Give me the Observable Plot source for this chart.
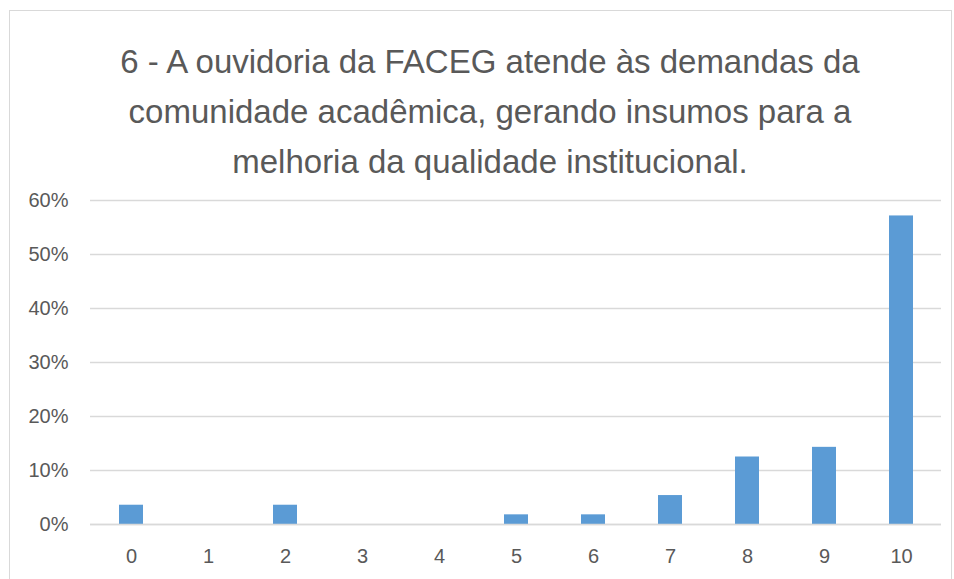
<!DOCTYPE html>
<html><head><meta charset="utf-8">
<script src="https://cdn.jsdelivr.net/npm/d3@7"></script>
<script src="https://cdn.jsdelivr.net/npm/@observablehq/plot@0.6"></script>
<style>
html,body{margin:0;padding:0;background:#fff;}
#frame{position:absolute;left:9px;top:10px;width:943px;height:580px;border:1px solid #d9d9d9;border-bottom:none;box-sizing:border-box;}
#title{position:absolute;left:0;top:37px;width:980px;text-align:center;font-family:"Liberation Sans",Arial,sans-serif;font-size:33px;line-height:50px;color:#595959;}
#chart{position:absolute;left:0;top:180px;}
</style></head><body>
<div id="frame"></div>
<div id="title"></div>
<div id="chart"></div>
<script>
const titleLines = ["6 - A ouvidoria da FACEG atende às demandas da","comunidade acadêmica, gerando insumos para a","melhoria da qualidade institucional."];
const categories = ["0","1","2","3","4","5","6","7","8","9","10"];
const values = [0.0357,0,0.0357,0,0,0.0179,0.0179,0.0536,0.125,0.1429,0.5714];
const yTicks = [0,0.1,0.2,0.3,0.4,0.5,0.6];

document.getElementById("title").innerHTML = titleLines.map(t=>`<div>${t}</div>`).join("");
const data = categories.map((c,i)=>({cat:c, v:values[i]}));
const chart = Plot.plot({
  width: 954, height: 399,
  marginLeft: 90, marginRight: 13, marginTop: 20, marginBottom: 55,
  style:{fontFamily:"Liberation Sans, Arial, sans-serif", fontSize:"20px", color:"#595959", background:"transparent"},
  x:{domain:categories, paddingInner:0.69, paddingOuter:0.345, label:null, tickSize:0, tickPadding:24},
  y:{domain:[0,0.6], ticks:yTicks, tickFormat:d=>Math.round(d*100)+"%", label:null, tickSize:0, tickPadding:22},
  marks:[
    Plot.gridY(yTicks,{stroke:"#d9d9d9", strokeOpacity:1, strokeWidth:1.3}),
    Plot.barY(data,{x:"cat", y:"v", fill:"#5b9bd5"}),
    Plot.ruleY([0],{stroke:"#d9d9d9", strokeWidth:1.3})
  ]
});
document.getElementById("chart").appendChild(chart);
</script></body></html>
